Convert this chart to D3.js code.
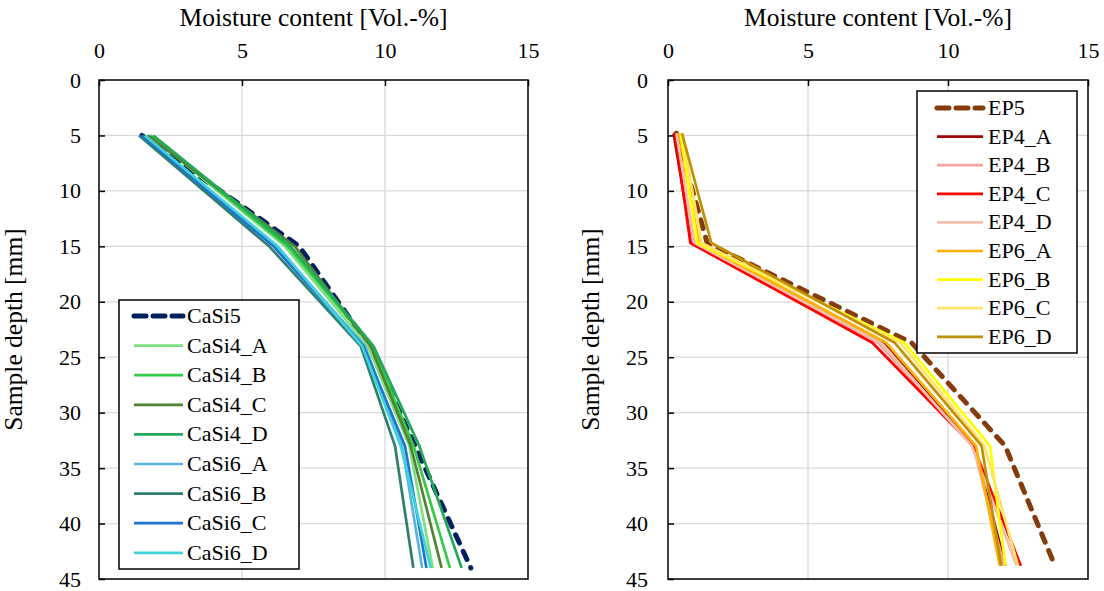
<!DOCTYPE html>
<html><head><meta charset="utf-8">
<script src="https://cdn.jsdelivr.net/npm/d3@7"></script>
<style>
html,body{margin:0;padding:0;background:#fff;}
svg{display:block;}
</style></head>
<body><svg id="c" width="1104" height="591" font-family="Liberation Serif"></svg>
<script>
// ---- data ----
const xTicks = [0, 5, 10, 15];
const yTicks = [0, 5, 10, 15, 20, 25, 30, 35, 40, 45];
const xTitle = "Moisture content [Vol.-%]";
const yTitle = "Sample depth [mm]";

const depthsCaSi = [5, 15, 24, 33, 44];
const casiNames = ["CaSi5","CaSi4_A","CaSi4_B","CaSi4_C","CaSi4_D","CaSi6_A","CaSi6_B","CaSi6_C","CaSi6_D"];
const CaSi5   = [1.5, 7.0, 9.45, 11.05, 13.0];
const CaSi4_A = [1.8, 6.5, 9.4, 10.85, 11.67];
const CaSi4_B = [1.8, 6.6, 9.55, 11.0, 12.27];
const CaSi4_C = [1.7, 6.85, 9.5, 10.9, 11.98];
const CaSi4_D = [1.9, 6.7, 9.6, 11.2, 12.68];
const CaSi6_A = [1.6, 6.2, 9.3, 10.6, 11.3];
const CaSi6_B = [1.4, 5.95, 9.15, 10.35, 10.99];
const CaSi6_C = [1.5, 6.1, 9.25, 10.7, 11.45];
const CaSi6_D = [1.6, 6.25, 9.2, 10.55, 11.6];

const depthsEP = [4.8, 14.7, 23.7, 33, 43.8];
const epNames = ["EP5","EP4_A","EP4_B","EP4_C","EP4_D","EP6_A","EP6_B","EP6_C","EP6_D"];
const EP5   = [0.3, 1.4, 8.7, 12.04, 13.82];
const EP4_A = [0.2, 0.85, 7.75, 10.95, 12.05];
const EP4_B = [0.3, 0.9, 7.5, 10.9, 12.0];
const EP4_C = [0.25, 0.8, 7.3, 10.9, 12.6];
const EP4_D = [0.3, 0.95, 7.6, 10.85, 12.45];
const EP6_A = [0.4, 1.1, 7.8, 11.0, 11.85];
const EP6_B = [0.45, 1.05, 8.45, 11.5, 12.05];
const EP6_C = [0.5, 1.2, 8.3, 11.3, 12.5];
const EP6_D = [0.5, 1.55, 8.1, 11.2, 11.9];

const casiValues = [CaSi5, CaSi4_A, CaSi4_B, CaSi4_C, CaSi4_D, CaSi6_A, CaSi6_B, CaSi6_C, CaSi6_D];
const epValues = [EP5, EP4_A, EP4_B, EP4_C, EP4_D, EP6_A, EP6_B, EP6_C, EP6_D];
const casiColors = ["#002060","#7fe07f","#33cc44","#548235","#22aa5a","#5bb4e0","#2f7f6f","#1f74d0","#3dd3d8"];
const epColors = ["#843c0c","#a00000","#f4a4a0","#ff0000","#f2c0aa","#ffb000","#ffff00","#ffe36a","#bf9000"];

// ---- drawing ----
const FONT = "Liberation Serif";
const svg = d3.select("#c");
const FS = 22;

function panel(cfg) {
  const x = d3.scaleLinear().domain([0, 15]).range([cfg.x0, cfg.x1]);
  const y = d3.scaleLinear().domain([0, 45]).range([80, 579]);
  const g = svg.append("g");
  g.selectAll(".gx").data(xTicks.slice(1, -1)).join("line")
    .attr("x1", d => x(d)).attr("x2", d => x(d)).attr("y1", y(0)).attr("y2", y(45))
    .attr("stroke", "#d9d9d9").attr("stroke-width", 1.3);
  g.selectAll(".gy").data(yTicks.slice(1, -1)).join("line")
    .attr("x1", x(0)).attr("x2", x(15)).attr("y1", d => y(d)).attr("y2", d => y(d))
    .attr("stroke", "#d9d9d9").attr("stroke-width", 1.3);
  const ax = d3.axisTop(x).tickValues(xTicks).tickSize(-6).tickPadding(22).tickFormat(d3.format("d"));
  const ay = d3.axisLeft(y).tickValues(yTicks).tickSize(-6).tickPadding(cfg.yPad).tickFormat(d3.format("d"));
  const gx = g.append("g").attr("transform", `translate(0,${y(0)})`).call(ax);
  const gy = g.append("g").attr("transform", `translate(${x(0)},0)`).call(ay);
  [gx, gy].forEach(a => {
    a.attr("font-family", FONT).attr("font-size", FS);
    a.select(".domain").remove();
    a.selectAll(".tick line").attr("stroke", "#000").attr("stroke-width", 1.5);
    a.selectAll("text").attr("font-family", FONT).attr("font-size", FS).attr("fill", "#000");
  });
  const line = d3.line().x(d => x(d[0])).y(d => y(d[1]));
  cfg.values.forEach((vals, i) => {
    const pts = vals.map((v, j) => [v, cfg.depths[j]]);
    const p = g.append("path").attr("d", line(pts)).attr("fill", "none")
      .attr("stroke", cfg.colors[i]).attr("stroke-linejoin", "round");
    if (i === 0) p.attr("stroke-width", 5).attr("stroke-dasharray", "9,9").attr("stroke-linecap", "round");
    else p.attr("stroke-width", 2.7);
  });
  g.append("rect").attr("x", x(0)).attr("y", y(0)).attr("width", x(15) - x(0)).attr("height", y(45) - y(0))
    .attr("fill", "none").attr("stroke", "#000").attr("stroke-width", 1.5);
  svg.append("text").attr("x", (x(0) + x(15)) / 2).attr("y", 26).attr("text-anchor", "middle")
    .attr("font-family", FONT).attr("font-size", 25.5).text(xTitle);
  svg.append("text").attr("transform", `translate(${cfg.yTitleX},${(y(0) + y(45)) / 2}) rotate(-90)`)
    .attr("text-anchor", "middle").attr("font-family", FONT).attr("font-size", 25.5).text(yTitle);
  const L = cfg.legend;
  const lg = svg.append("g");
  lg.append("rect").attr("x", L.x).attr("y", L.y).attr("width", L.w).attr("height", L.h)
    .attr("fill", "#fff").attr("stroke", "#000").attr("stroke-width", 1.5);
  cfg.names.forEach((n, i) => {
    const yy = L.y + L.first + i * L.step;
    const ln = lg.append("line").attr("x1", L.x + L.lx0).attr("x2", L.x + L.lx1).attr("y1", yy).attr("y2", yy)
      .attr("stroke", cfg.colors[i]);
    if (i === 0) ln.attr("stroke-width", 5).attr("stroke-dasharray", "12,7").attr("stroke-linecap", "round");
    else ln.attr("stroke-width", 2.7);
    lg.append("text").attr("x", L.x + L.tx).attr("y", yy + 7).attr("font-family", FONT).attr("font-size", FS).text(n);
  });
}

panel({ x0: 99, x1: 528, depths: depthsCaSi, values: casiValues, colors: casiColors, names: casiNames,
  yTitleX: 22, yPad: 18, legend: { x: 119, y: 300, w: 180, h: 269, first: 16, step: 29.6, lx0: 15, lx1: 64, tx: 68 } });
panel({ x0: 668, x1: 1088, depths: depthsEP, values: epValues, colors: epColors, names: epNames,
  yTitleX: 599, yPad: 20, legend: { x: 917, y: 91, w: 160, h: 262, first: 17, step: 28.6, lx0: 20, lx1: 66, tx: 71 } });
</script></body></html>
